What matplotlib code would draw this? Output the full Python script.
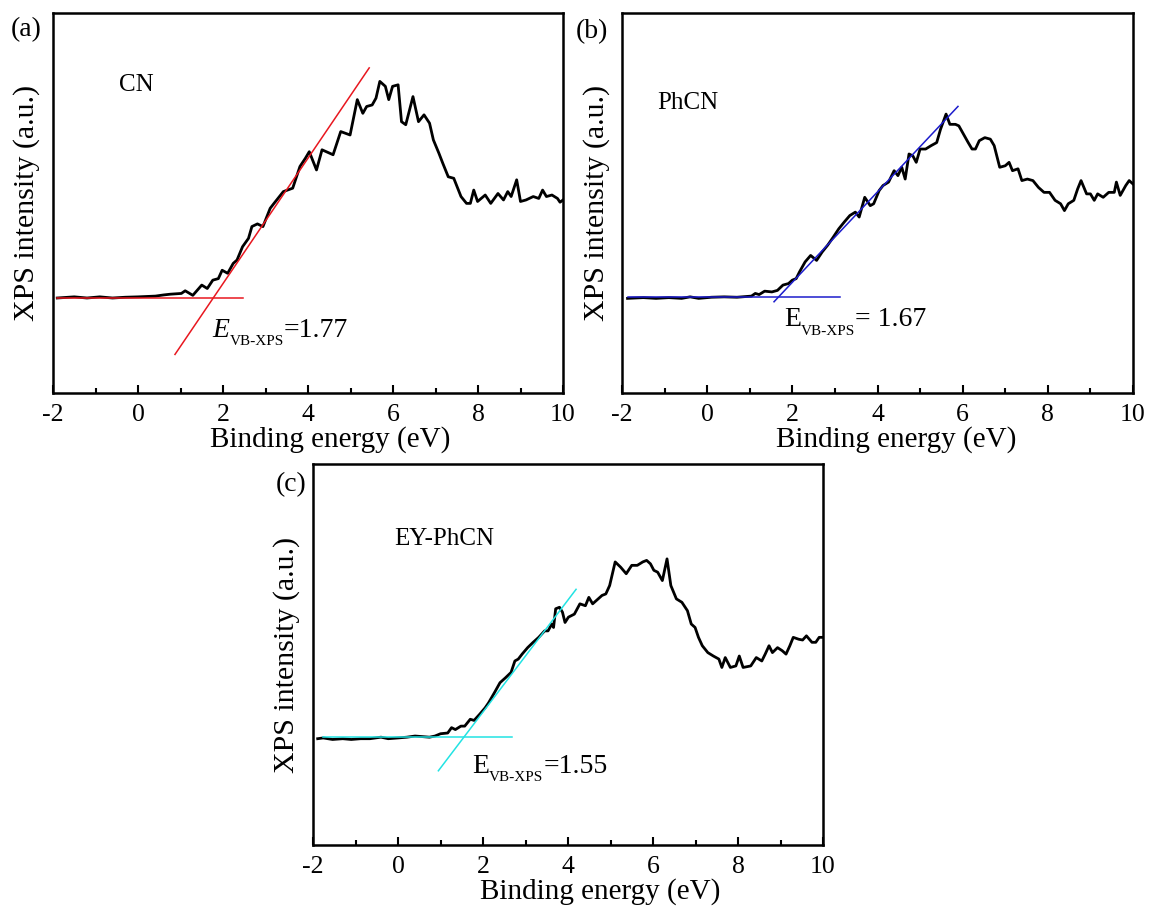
import matplotlib
matplotlib.use("Agg")
import matplotlib.pyplot as plt
from matplotlib.ticker import MultipleLocator
from matplotlib.transforms import offset_copy

plt.rcParams["font.family"] = ["Liberation Serif", "DejaVu Serif"]

# ---- valence-band XPS spectra (binding energy in eV, normalised intensity) ----
cn_energy = [-1.9, -1.5, -1.2, -0.9, -0.6, -0.3, 0.0, 0.41, 0.6, 0.76, 1.02, 1.11, 1.29, 1.5,
             1.63, 1.76, 1.89, 1.98, 2.11, 2.24, 2.33, 2.46, 2.6, 2.68, 2.81, 2.94, 3.11, 3.2,
             3.42, 3.64, 3.81, 3.94, 4.03, 4.2, 4.33, 4.59, 4.77, 4.99, 5.16, 5.29, 5.38, 5.51,
             5.6, 5.69, 5.82, 5.9, 5.99, 6.12, 6.2, 6.3, 6.47, 6.6, 6.73, 6.86, 6.95, 7.08, 7.17,
             7.3, 7.43, 7.6, 7.73, 7.82, 7.9, 7.99, 8.17, 8.3, 8.47, 8.6, 8.7, 8.78, 8.91, 9.0,
             9.13, 9.3, 9.43, 9.52, 9.61, 9.74, 9.87, 9.93, 10.0]
cn_intensity = [0.250, 0.253, 0.250, 0.253, 0.250, 0.252, 0.253, 0.255, 0.258, 0.260, 0.262,
                0.269, 0.257, 0.284, 0.275, 0.297, 0.301, 0.323, 0.315, 0.341, 0.350, 0.385,
                0.407, 0.438, 0.445, 0.438, 0.486, 0.499, 0.530, 0.539, 0.596, 0.618, 0.635,
                0.587, 0.640, 0.627, 0.688, 0.679, 0.772, 0.736, 0.754, 0.758, 0.776, 0.820,
                0.807, 0.772, 0.807, 0.811, 0.714, 0.706, 0.780, 0.714, 0.732, 0.710, 0.666,
                0.631, 0.605, 0.569, 0.565, 0.517, 0.499, 0.499, 0.534, 0.504, 0.521, 0.499,
                0.525, 0.508, 0.530, 0.517, 0.561, 0.504, 0.508, 0.517, 0.512, 0.534, 0.517,
                0.521, 0.512, 0.502, 0.508]

phcn_energy = [-1.87, -1.5, -1.2, -0.9, -0.6, -0.4, -0.2, 0.1, 0.4, 0.7, 1.04, 1.13, 1.22, 1.35,
               1.52, 1.65, 1.78, 1.91, 2.0, 2.09, 2.17, 2.3, 2.43, 2.57, 2.7, 2.83, 2.96, 3.09,
               3.22, 3.35, 3.48, 3.57, 3.7, 3.83, 3.91, 4.04, 4.13, 4.26, 4.39, 4.48, 4.57, 4.65,
               4.74, 4.83, 4.91, 5.0, 5.13, 5.26, 5.39, 5.48, 5.61, 5.7, 5.83, 5.91, 6.04, 6.13,
               6.22, 6.3, 6.39, 6.52, 6.65, 6.74, 6.87, 7.0, 7.09, 7.17, 7.3, 7.39, 7.52, 7.65,
               7.78, 7.91, 8.04, 8.17, 8.3, 8.39, 8.48, 8.61, 8.7, 8.78, 8.91, 9.0, 9.09, 9.17,
               9.3, 9.43, 9.56, 9.61, 9.7, 9.83, 9.91, 10.0]
phcn_intensity = [0.249, 0.251, 0.249, 0.251, 0.249, 0.253, 0.249, 0.252, 0.253, 0.252, 0.255,
                  0.262, 0.259, 0.268, 0.266, 0.270, 0.284, 0.288, 0.297, 0.301, 0.319, 0.345,
                  0.362, 0.349, 0.371, 0.389, 0.410, 0.432, 0.450, 0.467, 0.476, 0.463, 0.515,
                  0.493, 0.498, 0.533, 0.546, 0.555, 0.585, 0.572, 0.594, 0.563, 0.629, 0.624,
                  0.607, 0.642, 0.642, 0.651, 0.659, 0.694, 0.734, 0.707, 0.707, 0.703, 0.677,
                  0.659, 0.642, 0.642, 0.664, 0.672, 0.668, 0.651, 0.594, 0.598, 0.607, 0.585,
                  0.590, 0.559, 0.563, 0.559, 0.541, 0.528, 0.528, 0.507, 0.498, 0.480, 0.498,
                  0.507, 0.537, 0.559, 0.524, 0.524, 0.507, 0.524, 0.515, 0.528, 0.528, 0.555,
                  0.520, 0.546, 0.559, 0.550]

eyphcn_energy = [-1.89, -1.76, -1.54, -1.3, -1.1, -0.88, -0.66, -0.4, -0.23, 0.0, 0.21, 0.4,
                 0.74, 0.87, 1.0, 1.17, 1.26, 1.35, 1.48, 1.57, 1.7, 1.79, 1.92, 2.05, 2.13,
                 2.27, 2.4, 2.53, 2.66, 2.75, 2.83, 2.92, 3.05, 3.18, 3.31, 3.45, 3.53, 3.62,
                 3.66, 3.71, 3.8, 3.87, 3.93, 4.01, 4.15, 4.28, 4.41, 4.49, 4.58, 4.71, 4.8,
                 4.89, 4.98, 5.11, 5.24, 5.37, 5.5, 5.63, 5.76, 5.85, 5.94, 6.02, 6.11, 6.22,
                 6.33, 6.42, 6.55, 6.68, 6.81, 6.9, 6.99, 7.07, 7.16, 7.29, 7.42, 7.55, 7.62,
                 7.7, 7.82, 7.95, 8.03, 8.12, 8.3, 8.43, 8.56, 8.64, 8.73, 8.81, 8.93, 9.04,
                 9.13, 9.22, 9.3, 9.43, 9.52, 9.61, 9.74, 9.83, 9.91, 10.0]
eyphcn_intensity = [0.279, 0.281, 0.277, 0.279, 0.277, 0.279, 0.279, 0.283, 0.279, 0.281, 0.283,
                    0.286, 0.283, 0.286, 0.292, 0.294, 0.308, 0.303, 0.312, 0.312, 0.330, 0.327,
                    0.343, 0.360, 0.373, 0.400, 0.426, 0.439, 0.453, 0.483, 0.488, 0.501, 0.518,
                    0.532, 0.545, 0.562, 0.562, 0.580, 0.571, 0.620, 0.624, 0.611, 0.584, 0.598,
                    0.606, 0.633, 0.628, 0.650, 0.633, 0.646, 0.655, 0.659, 0.681, 0.743, 0.729,
                    0.712, 0.734, 0.734, 0.743, 0.747, 0.738, 0.721, 0.716, 0.694, 0.751, 0.681,
                    0.646, 0.637, 0.615, 0.580, 0.571, 0.545, 0.523, 0.505, 0.496, 0.488, 0.466,
                    0.492, 0.466, 0.470, 0.496, 0.466, 0.470, 0.492, 0.483, 0.501, 0.523, 0.505,
                    0.518, 0.510, 0.501, 0.523, 0.545, 0.540, 0.538, 0.549, 0.532, 0.532, 0.545,
                    0.545]

# ---- linear extrapolation of the leading edge ----
sample_names = ["CN", "PhCN", "EY-PhCN"]
panel_tags = ["(a)", "(b)", "(c)"]
vb_onset = [1.77, 1.67, 1.55]          # E_VB-XPS (eV)
baseline_level = [0.250, 0.252, 0.283]
edge_slope = [0.165, 0.119, 0.147]     # intensity per eV
baseline_span = [(-1.9, 2.46), (-1.87, 3.13), (-1.76, 2.69)]
edge_span = [(0.87, 5.44), (1.57, 5.89), (0.95, 4.19)]
fit_colors = ["#e8171f", "#1c1ccc", "#22e3e3"]
onset_symbol_style = ["italic", "normal", "normal"]
onset_equals = ["=", "= ", "="]

spectra = [(cn_energy, cn_intensity), (phcn_energy, phcn_intensity),
           (eyphcn_energy, eyphcn_intensity)]

W, H = 1152, 908
fig = plt.figure(figsize=(W / 100, H / 100), dpi=100)
renderer = fig.canvas.get_renderer()
boxes_px = [(53, 13, 563, 393), (622, 13, 1133, 393), (313, 464, 823, 845)]
name_pos = [(-0.44, 0.81), (-1.17, 0.764), (-0.09, 0.804)]
label_pos = [(1.76, 0.148), (1.81, 0.175), (1.74, 0.189)]
tag_pos_px = [(26, 30), (592, 32), (291, 485)]
xlabel_x = [0.543, 0.537, 0.563]


def chained_label(ax, x, y, pieces):
    """Write pieces (text, size, style, baseline shift in pt) one after another."""
    dx = 0.0
    for s, size, style, dy in pieces:
        tr = offset_copy(ax.transData, fig=fig, x=dx, y=dy, units="points")
        t = ax.text(x, y, s, fontsize=size, style=style, ha="left",
                    va="baseline", transform=tr, zorder=5)
        dx += t.get_window_extent(renderer).width * 72.0 / fig.dpi


for i, (l, t, r, b) in enumerate(boxes_px):
    ax = fig.add_axes([l / W, 1 - b / H, (r - l) / W, (b - t) / H])
    x, y = spectra[i]
    ax.plot(x, y, color="black", lw=2.0, zorder=3)

    bx = list(baseline_span[i])
    ax.plot(bx, [baseline_level[i]] * 2, color=fit_colors[i], lw=1.1, zorder=4)
    ex = list(edge_span[i])
    ey = [baseline_level[i] + edge_slope[i] * (v - vb_onset[i]) for v in ex]
    ax.plot(ex, ey, color=fit_colors[i], lw=1.1, zorder=4)

    ax.set_xlim(-2, 10)
    ax.set_ylim(0, 1)
    ax.xaxis.set_minor_locator(MultipleLocator(1))
    ax.set_xticks(range(-2, 11, 2))
    ax.set_xticklabels(["-2", "0", "2", "4", "6", "8", "10"])
    ax.set_yticks([])
    ax.tick_params(axis="x", which="major", direction="in", length=6, width=1.5,
                   labelsize=18.5, pad=8)
    ax.tick_params(axis="x", which="minor", direction="in", length=3.5, width=1.5)
    for s in ax.spines.values():
        s.set_linewidth(1.8)
    ax.set_xlabel("Binding energy (eV)", fontsize=21, labelpad=0)
    ax.xaxis.label.set_x(xlabel_x[i])
    ax.set_ylabel("XPS intensity (a.u.)", fontsize=21.5, labelpad=9)

    ax.text(name_pos[i][0], name_pos[i][1], sample_names[i], fontsize=18,
            ha="left", va="center")
    chained_label(ax, label_pos[i][0], label_pos[i][1], [
        ("E", 20, onset_symbol_style[i], 0),
        ("VB-XPS", 11, "normal", -6),
        (f"{onset_equals[i]}{vb_onset[i]:.2f}", 20, "normal", 0),
    ])
    fig.text(tag_pos_px[i][0] / W, 1 - tag_pos_px[i][1] / H, panel_tags[i],
             fontsize=20, ha="center", va="center")

fig.savefig("out.png", dpi=100)
